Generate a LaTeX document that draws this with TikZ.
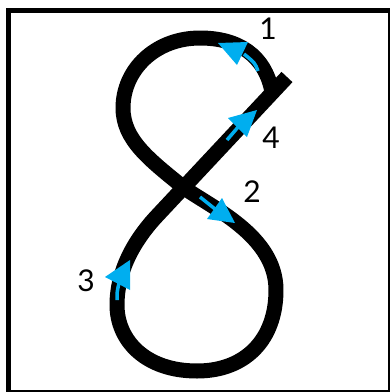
\documentclass[tikz,border=0pt]{standalone}
\usepackage{fontspec}
\setmainfont{Lato}
\definecolor{arrowblue}{RGB}{0,174,239}
\begin{document}
\begin{tikzpicture}[x=1pt,y=1pt,
  stroke8/.style={line width=15pt,line cap=butt,line join=round,black},
  guide/.style={line width=3.5pt,arrowblue,line cap=butt},
  ahead/.style={fill=arrowblue},
  digit/.style={font=\fontsize{30}{30}\selectfont,inner sep=0pt,anchor=center}]
\useasboundingbox (0,0) rectangle (390,-392);
\clip (0,0) rectangle (390,-392);
\draw[line width=5pt] (8.5,-10.5) rectangle (390.5,-392.5);
% the figure eight
\draw[stroke8] (272,-92) .. controls (265,-55) and (238,-38) .. (200,-38)
  .. controls (155,-38) and (123,-70) .. (123,-108)
  .. controls (123,-140) and (150,-160) .. (183,-187)
  .. controls (210,-207) and (276,-235) .. (276,-290)
  .. controls (276,-340) and (245,-371) .. (197,-371)
  .. controls (145,-371) and (117,-340) .. (117,-305)
  .. controls (117,-270) and (135,-240) .. (155,-218) -- (287,-77);
% arrow 1
\draw[guide] (258,-71) .. controls (255,-63) .. (244,-54);
\fill[ahead] (218,-43) -- (248,-42) -- (237,-65) -- cycle;
% arrow 4
\draw[guide] (227,-140) -- (239,-126);
\fill[ahead] (257,-110) -- (228,-118) -- (247,-137) -- cycle;
% arrow 2
\draw[guide] (200,-197) -- (215,-209);
\fill[ahead] (235,-223) -- (207,-219) -- (222,-198) -- cycle;
% arrow 3
\draw[guide] (117,-300) .. controls (117,-292) .. (119,-283);
\fill[ahead] (130,-260) -- (105,-277) -- (130,-290) -- cycle;
% labels
\node[digit] (n1) at (268,-29) {1};
\node[digit] (n4) at (271,-138) {4};
\node[digit] (n2) at (252,-192) {2};
\node[digit] (n3) at (86,-281) {3};
\end{tikzpicture}
\end{document}
